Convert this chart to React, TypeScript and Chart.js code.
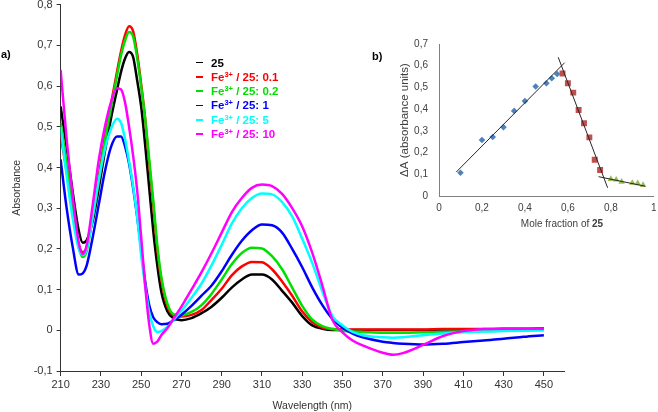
import React, { useEffect, useRef } from "react";
import { Chart, registerables } from "chart.js";

Chart.register(...registerables);

// ---------- Data: panel a) UV-Vis spectra ----------
const WAVELENGTHS = [
  210, 213, 216, 219, 221, 223, 226, 229, 232, 235, 238, 240, 242, 244, 246, 248, 250, 252, 254, 256, 258,
  260, 263, 266, 270, 275, 280, 285, 290, 295, 300, 305, 310, 315, 320, 325, 330, 335, 340, 345, 350, 355,
  360, 370, 375, 380, 390, 400, 410, 420, 430, 440, 450,
];
const ABS_25 = [
  0.55, 0.45, 0.34, 0.245, 0.215, 0.222, 0.27, 0.35, 0.44, 0.52, 0.59, 0.635, 0.668, 0.684, 0.672, 0.615, 0.55,
  0.455, 0.35, 0.245, 0.16, 0.095, 0.047, 0.03, 0.025, 0.03, 0.042, 0.058, 0.08, 0.105, 0.125, 0.137, 0.137,
  0.125, 0.097, 0.068, 0.035, 0.012, 0.004, 0.001, 0.001, 0.001, 0.001, 0.001, 0.001, 0.001, 0.001, 0.002,
  0.002, 0.002, 0.003, 0.003, 0.004,
];
const ABS_FE_0_1 = [
  0.48, 0.39, 0.29, 0.212, 0.192, 0.205, 0.29, 0.38, 0.475, 0.555, 0.635, 0.685, 0.725, 0.747, 0.735, 0.68,
  0.605, 0.52, 0.41, 0.31, 0.2, 0.125, 0.06, 0.037, 0.034, 0.038, 0.05, 0.075, 0.102, 0.135, 0.157, 0.168,
  0.167, 0.15, 0.12, 0.085, 0.046, 0.02, 0.007, 0.003, 0.002, 0.002, 0.002, 0.002, 0.002, 0.002, 0.002, 0.003,
  0.003, 0.003, 0.004, 0.004, 0.005,
];
const ABS_FE_0_2 = [
  0.51, 0.41, 0.3, 0.205, 0.18, 0.195, 0.28, 0.37, 0.465, 0.545, 0.625, 0.675, 0.712, 0.733, 0.722, 0.67, 0.6,
  0.52, 0.42, 0.32, 0.21, 0.132, 0.066, 0.04, 0.037, 0.045, 0.062, 0.09, 0.125, 0.162, 0.19, 0.203, 0.201,
  0.182, 0.15, 0.105, 0.06, 0.026, 0.01, 0.003, -0.001, -0.003, -0.004, -0.006, -0.006, -0.006, -0.005,
  -0.004, -0.003, -0.002, -0.001, 0, 0.001,
];
const ABS_FE_1 = [
  0.42, 0.3, 0.205, 0.137, 0.14, 0.16, 0.23, 0.31, 0.39, 0.45, 0.476, 0.476, 0.452, 0.41, 0.35, 0.28, 0.2,
  0.12, 0.062, 0.032, 0.02, 0.015, 0.016, 0.024, 0.038, 0.06, 0.085, 0.11, 0.145, 0.185, 0.22, 0.246, 0.26,
  0.258, 0.24, 0.2, 0.155, 0.105, 0.062, 0.028, 0.006, -0.008, -0.017, -0.028, -0.031, -0.033, -0.035,
  -0.033, -0.029, -0.025, -0.021, -0.016, -0.012,
];
const ABS_FE_5 = [
  0.5, 0.38, 0.275, 0.2, 0.185, 0.2, 0.28, 0.37, 0.445, 0.495, 0.52, 0.51, 0.47, 0.415, 0.355, 0.28, 0.185,
  0.11, 0.045, 0.01, -0.004, -0.002, 0.008, 0.025, 0.048, 0.08, 0.115, 0.16, 0.21, 0.262, 0.3, 0.325, 0.336,
  0.334, 0.315, 0.28, 0.225, 0.165, 0.095, 0.035, 0.012, -0.004, -0.012, -0.017, -0.018, -0.017, -0.012,
  -0.008, -0.005, -0.003, -0.002, -0.001, 0,
];
const ABS_FE_10 = [
  0.64, 0.47, 0.33, 0.215, 0.187, 0.21, 0.31, 0.42, 0.5, 0.56, 0.595, 0.592, 0.56, 0.5, 0.43, 0.345, 0.23,
  0.11, 0.015, -0.033, -0.028, -0.012, 0.005, 0.028, 0.058, 0.1, 0.143, 0.19, 0.24, 0.29, 0.325, 0.35, 0.358,
  0.354, 0.335, 0.3, 0.255, 0.19, 0.11, 0.025, -0.005, -0.025, -0.037, -0.055, -0.06, -0.056, -0.036,
  -0.014, -0.002, 0.003, 0.004, 0.004, 0.004,
];
const SERIES_NAMES = ["25", "0.1", "0.2", "1", "5", "10"];
const MAIN_X_TICKS = [210, 230, 250, 270, 290, 310, 330, 350, 370, 390, 410, 430, 450];
const MAIN_Y_TICKS = [-0.1, 0, 0.1, 0.2, 0.3, 0.4, 0.5, 0.6, 0.7, 0.8];

// ---------- Data: panel b) Job plot ----------
const MOLE_FRACTION_BLUE = [0.1, 0.2, 0.25, 0.3, 0.35, 0.4, 0.45, 0.5, 0.525, 0.55];
const DELTA_A_BLUE = [0.107, 0.258, 0.272, 0.317, 0.392, 0.437, 0.504, 0.519, 0.542, 0.562];
const MOLE_FRACTION_RED = [0.575, 0.6, 0.625, 0.65, 0.675, 0.7, 0.725, 0.75];
const DELTA_A_RED = [0.564, 0.519, 0.476, 0.396, 0.335, 0.27, 0.167, 0.12];
const MOLE_FRACTION_GREEN = [0.8, 0.825, 0.85, 0.9, 0.925, 0.95];
const DELTA_A_GREEN = [0.078, 0.075, 0.065, 0.06, 0.058, 0.05];
const FIT_BLUE_X = [0.08, 0.585];
const FIT_BLUE_Y = [0.11, 0.614];
const FIT_RED_X = [0.555, 0.785];
const FIT_RED_Y = [0.639, 0.038];
const FIT_GREEN_X = [0.743, 0.96];
const FIT_GREEN_Y = [0.089, 0.045];
const INSET_X_TICKS = [0, 0.2, 0.4, 0.6, 0.8, 1];
const INSET_Y_TICKS = [0, 0.1, 0.2, 0.3, 0.4, 0.5, 0.6, 0.7];

// ---------- Styles ----------
const SERIES_COLORS = ["#000000", "#ff0000", "#00e000", "#0000ff", "#00ffff", "#ff00ff"];
const FONT = "Arial, 'Liberation Sans', sans-serif";

const fmt = (v: number) => {
  const r = Math.round(v * 10) / 10;
  return r === 0 ? "0" : String(r).replace(".", ",");
};
const pts = (xs: number[], ys: number[]) => xs.map((x, i) => ({ x, y: ys[i] }));

export default function App() {
  const mainRef = useRef<HTMLCanvasElement>(null);
  const insetRef = useRef<HTMLCanvasElement>(null);

  useEffect(() => {
    const series = [ABS_25, ABS_FE_0_1, ABS_FE_0_2, ABS_FE_1, ABS_FE_5, ABS_FE_10];
    const axisColor = "#333333";
    const main = new Chart(mainRef.current as HTMLCanvasElement, {
      type: "line",
      data: {
        datasets: series.map((s, i) => ({
          label: SERIES_NAMES[i],
          data: pts(WAVELENGTHS, s),
          borderColor: SERIES_COLORS[i],
          backgroundColor: SERIES_COLORS[i],
          borderWidth: 2.5,
          pointRadius: 0,
          fill: false,
          cubicInterpolationMode: "monotone" as const,
          order: -i,
        })),
      },
      options: {
        responsive: false,
        animation: false,
        layout: { padding: { left: 10, right: 94, top: 4.7, bottom: 0 } },
        plugins: { legend: { display: false }, tooltip: { enabled: false } },
        scales: {
          x: {
            type: "linear",
            min: 210,
            max: 460,
            afterBuildTicks: (s: any) => {
              s.ticks = MAIN_X_TICKS.map((v) => ({ value: v }));
            },
            afterFit: (s: any) => {
              s.height = 41;
              s.paddingLeft = 0;
              s.paddingRight = 0;
            },
            grid: { drawOnChartArea: false, drawTicks: true, tickLength: 5, color: axisColor },
            border: { color: axisColor, width: 1 },
            ticks: {
              font: { family: FONT, size: 11 },
              color: axisColor,
              padding: 2,
              maxRotation: 0,
              autoSkip: false,
              callback: (v: any) => String(v),
            },
            title: {
              display: true,
              text: "Wavelength (nm)",
              font: { family: FONT, size: 10.5 },
              color: axisColor,
              padding: { top: 0, bottom: 0 },
            },
          },
          y: {
            type: "linear",
            min: -0.1,
            max: 0.8,
            afterBuildTicks: (s: any) => {
              s.ticks = MAIN_Y_TICKS.map((v) => ({ value: v }));
            },
            afterFit: (s: any) => {
              s.width = 50.6;
              s.paddingTop = 0;
              s.paddingBottom = 0;
            },
            grid: { drawOnChartArea: false, drawTicks: true, tickLength: 4, color: axisColor },
            border: { color: axisColor, width: 1 },
            ticks: {
              font: { family: FONT, size: 11 },
              color: axisColor,
              padding: 4,
              autoSkip: false,
              callback: (v: any) => fmt(Number(v)),
            },
            title: {
              display: true,
              text: "Absorbance",
              font: { family: FONT, size: 10.5 },
              color: axisColor,
              padding: { top: 1, bottom: 0 },
            },
          },
        },
      },
    });

    const insetAxis = "#7f7f7f";
    const insetText = "#404040";
    const inset = new Chart(insetRef.current as HTMLCanvasElement, {
      type: "scatter",
      data: {
        datasets: [
          {
            type: "line" as const,
            data: pts(FIT_BLUE_X, FIT_BLUE_Y),
            borderColor: "#262626",
            borderWidth: 1,
            pointRadius: 0,
            order: -3,
          },
          {
            type: "line" as const,
            data: pts(FIT_RED_X, FIT_RED_Y),
            borderColor: "#262626",
            borderWidth: 1,
            pointRadius: 0,
            order: -3,
          },
          {
            type: "line" as const,
            data: pts(FIT_GREEN_X, FIT_GREEN_Y),
            borderColor: "#262626",
            borderWidth: 1,
            pointRadius: 0,
            order: -3,
          },
          {
            data: pts(MOLE_FRACTION_BLUE, DELTA_A_BLUE),
            pointStyle: "rectRot",
            pointRadius: 3.3,
            backgroundColor: "#4f81bd",
            borderColor: "#4f81bd",
            borderWidth: 0,
          },
          {
            data: pts(MOLE_FRACTION_RED, DELTA_A_RED),
            pointStyle: "rect",
            pointRadius: 4.2,
            backgroundColor: "#c0504d",
            borderColor: "#c0504d",
            borderWidth: 0,
          },
          {
            data: pts(MOLE_FRACTION_GREEN, DELTA_A_GREEN),
            pointStyle: "triangle",
            pointRadius: 3.8,
            backgroundColor: "#9bbb59",
            borderColor: "#9bbb59",
            borderWidth: 0,
          },
        ] as any,
      },
      options: {
        responsive: false,
        animation: false,
        layout: { padding: { left: 2.8, right: 2, top: 14, bottom: 0 } },
        plugins: { legend: { display: false }, tooltip: { enabled: false } },
        scales: {
          x: {
            type: "linear",
            min: 0,
            max: 1,
            afterBuildTicks: (s: any) => {
              s.ticks = INSET_X_TICKS.map((v) => ({ value: v }));
            },
            afterFit: (s: any) => {
              s.height = 34;
              s.paddingLeft = 0;
              s.paddingRight = 0;
            },
            grid: { drawOnChartArea: false, drawTicks: false, color: insetAxis },
            border: { color: insetAxis, width: 1 },
            ticks: {
              font: { family: FONT, size: 10 },
              color: insetText,
              padding: 6,
              maxRotation: 0,
              autoSkip: false,
              callback: (v: any) => fmt(Number(v)),
            },
          },
          y: {
            type: "linear",
            min: 0,
            max: 0.7,
            afterBuildTicks: (s: any) => {
              s.ticks = INSET_Y_TICKS.map((v) => ({ value: v }));
            },
            afterFit: (s: any) => {
              s.width = 41.2;
              s.paddingTop = 0;
              s.paddingBottom = 0;
            },
            grid: { drawOnChartArea: false, drawTicks: false, color: insetAxis },
            border: { color: insetAxis, width: 1 },
            ticks: {
              font: { family: FONT, size: 10 },
              color: insetText,
              padding: 11,
              autoSkip: false,
              callback: (v: any) => fmt(Number(v)),
            },
            title: {
              display: true,
              text: "ΔA (absorbance units)",
              font: { family: FONT, size: 11.5 },
              color: insetText,
              padding: { top: 0, bottom: 0 },
            },
          },
        },
      },
    });

    return () => {
      main.destroy();
      inset.destroy();
    };
  }, []);

  const rowTop = (i: number) => 62.5 + i * 14.3 - 7;
  const legendText = (i: number) =>
    i === 0 ? (
      <span>{SERIES_NAMES[0]}</span>
    ) : (
      <span>
        Fe<span style={{ fontSize: 7.5, position: "relative", top: -4 }}>3+</span> / 25: {SERIES_NAMES[i]}
      </span>
    );

  return (
    <div
      style={{
        position: "absolute",
        left: 0,
        top: 0,
        width: 658,
        height: 412,
        background: "#ffffff",
        fontFamily: FONT,
        overflow: "hidden",
      }}
    >
      <canvas ref={mainRef} width={658} height={412} style={{ position: "absolute", left: 0, top: 0 }} />
      <canvas ref={insetRef} width={263} height={200} style={{ position: "absolute", left: 395, top: 30 }} />

      <div style={{ position: "absolute", left: 1, top: 47, fontSize: 11, fontWeight: "bold", lineHeight: "14px" }}>
        a)
      </div>
      <div style={{ position: "absolute", left: 372, top: 49, fontSize: 11, fontWeight: "bold", lineHeight: "14px" }}>
        b)
      </div>

      {SERIES_NAMES.map((_, i) => (
        <React.Fragment key={i}>
          <div
            style={{
              position: "absolute",
              left: 196,
              top: rowTop(i) + 6.3,
              width: 7,
              height: 1.5,
              background: SERIES_COLORS[i],
            }}
          />
          <div
            style={{
              position: "absolute",
              left: 211,
              top: rowTop(i),
              fontSize: 11.5,
              fontWeight: "bold",
              lineHeight: "14px",
              whiteSpace: "nowrap",
              color: SERIES_COLORS[i],
            }}
          >
            {legendText(i)}
          </div>
        </React.Fragment>
      ))}

      <div
        style={{
          position: "absolute",
          left: 502,
          width: 120,
          top: 217,
          textAlign: "center",
          fontSize: 10,
          lineHeight: "14px",
          color: "#404040",
          whiteSpace: "nowrap",
        }}
      >
        Mole fraction of <b>25</b>
      </div>
    </div>
  );
}
